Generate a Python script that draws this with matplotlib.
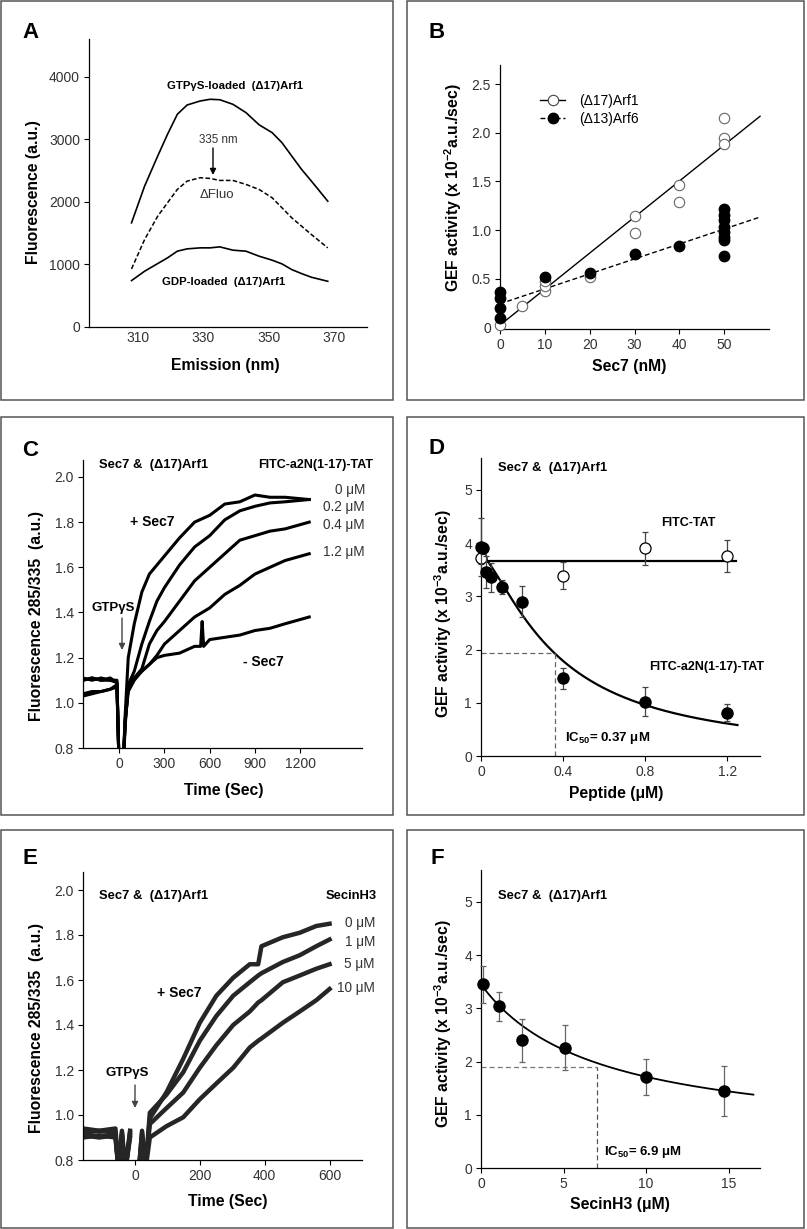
import numpy as np
import matplotlib
matplotlib.use("Agg")
import matplotlib.pyplot as plt
from matplotlib.patches import Rectangle
from matplotlib.ticker import FuncFormatter

plt.rcParams['font.family'] = ['Liberation Sans', 'DejaVu Sans']
plt.rcParams['mathtext.fontset'] = 'custom'
plt.rcParams['mathtext.rm'] = 'Liberation Sans'
plt.rcParams['mathtext.bf'] = 'Liberation Sans:bold'
plt.rcParams['mathtext.it'] = 'Liberation Sans:italic'

# ---------------- data ----------------
# A: emission spectra
a_nm = [308, 312, 316, 319, 322, 325, 329, 332, 335, 339, 343, 347, 351, 354, 357, 360, 363, 368]
a_gtp = [1664, 2250, 2730, 3077, 3397, 3546, 3610, 3637, 3630, 3557, 3424, 3230, 3104, 2944, 2730, 2517, 2330, 2010]
a_dfluo = [928, 1397, 1770, 1984, 2197, 2330, 2384, 2373, 2341, 2341, 2277, 2197, 2064, 1904, 1744, 1610, 1477, 1264]
a_gdp = [741, 891, 1013, 1104, 1211, 1248, 1264, 1264, 1280, 1227, 1211, 1131, 1067, 1008, 917, 853, 795, 730]

# B: GEF activity vs Sec7
b_arf1_x = [0, 5, 10, 10, 10, 20, 30, 30, 40, 40, 50, 50, 50]
b_arf1_y = [0.02, 0.22, 0.37, 0.42, 0.47, 0.52, 1.14, 0.97, 1.46, 1.29, 2.15, 1.95, 1.89]
b_arf6_x = [0, 0, 0, 0, 10, 20, 30, 40, 50, 50, 50, 50, 50, 50, 50, 50]
b_arf6_y = [0.36, 0.30, 0.20, 0.09, 0.52, 0.56, 0.75, 0.83, 1.22, 1.15, 1.10, 1.03, 0.98, 0.93, 0.90, 0.73]
b_fit_arf1 = (0.0371, 0.02)   # slope, intercept
b_fit_arf6 = (0.0154, 0.24)
b_fit_end = 58

# C: kinetics with FITC-a2N(1-17)-TAT
c_t = [-240, -180, -120, -60, -15, 0, 25, 40, 60, 100, 150, 200, 250, 300, 400, 500, 600, 700, 800, 900, 1000, 1100, 1260]
c_0 = [1.10, 1.11, 1.10, 1.11, 1.09, 0.70, 0.70, 0.95, 1.20, 1.35, 1.49, 1.57, 1.61, 1.65, 1.73, 1.80, 1.83, 1.88, 1.89, 1.92, 1.91, 1.91, 1.90]
c_02 = [1.11, 1.10, 1.11, 1.10, 1.10, 0.70, 0.70, 0.90, 1.08, 1.14, 1.26, 1.36, 1.45, 1.51, 1.61, 1.69, 1.74, 1.81, 1.85, 1.87, 1.885, 1.89, 1.90]
c_04 = [1.04, 1.05, 1.05, 1.06, 1.07, 0.70, 0.70, 0.92, 1.06, 1.11, 1.15, 1.26, 1.32, 1.36, 1.45, 1.54, 1.60, 1.66, 1.72, 1.74, 1.76, 1.77, 1.80]
c_12 = [1.10, 1.11, 1.10, 1.10, 1.09, 0.70, 0.70, 0.93, 1.07, 1.11, 1.14, 1.17, 1.21, 1.26, 1.32, 1.38, 1.42, 1.48, 1.52, 1.57, 1.60, 1.63, 1.66]
c_nosec_t = [-240, -180, -120, -60, -15, 0, 25, 40, 60, 100, 150, 200, 250, 300, 400, 500, 540, 550, 560, 600, 700, 800, 900, 1000, 1100, 1260]
c_nosec = [1.03, 1.04, 1.05, 1.06, 1.08, 0.70, 0.70, 0.92, 1.05, 1.10, 1.14, 1.17, 1.20, 1.21, 1.22, 1.25, 1.25, 1.36, 1.25, 1.28, 1.29, 1.30, 1.32, 1.33, 1.35, 1.38]
c_conc = ['0 μM', '0.2 μM', '0.4 μM', '1.2 μM']

# D: GEF activity vs peptide
d_a2n_x = [0, 0.01, 0.025, 0.05, 0.1, 0.2, 0.4, 0.8, 1.2]
d_a2n_y = [3.93, 3.90, 3.45, 3.36, 3.17, 2.90, 1.46, 1.02, 0.81]
d_a2n_e = [0.55, 0.10, 0.30, 0.27, 0.13, 0.29, 0.20, 0.27, 0.16]
d_tat_x = [0, 0.4, 0.8, 1.2]
d_tat_y = [3.72, 3.39, 3.90, 3.76]
d_tat_e = [0.12, 0.25, 0.31, 0.30]
d_tat_mean = 3.66
d_fit = dict(top=3.78, ic50=0.37, hill=1.4)
d_half = (0.36, 1.93)

# E: kinetics with SecinH3
nan = np.nan
e_t = [-160, -110, -60, -50, -40, -30, -15, 0, 12, 22, 32, 46, 97, 149, 200, 251, 303, 354, 380, 390, 456, 508, 559, 600]
e_0 = [0.94, 0.93, 0.94, 0.75, 0.93, 0.75, 0.93, nan, 0.75, 0.93, 0.75, 0.985, 1.10, 1.25, 1.41, 1.53, 1.61, 1.67, 1.67, 1.75, 1.79, 1.81, 1.84, 1.85]
e_1 = [0.92, 0.93, 0.92, 0.75, 0.92, 0.75, 0.92, nan, 0.75, 0.92, 0.75, 1.01, 1.09, 1.19, 1.33, 1.44, 1.53, 1.59, 1.62, 1.63, 1.68, 1.71, 1.75, 1.78]
e_5 = [0.91, 0.90, 0.91, 0.75, 0.90, 0.75, 0.91, nan, 0.75, 0.90, 0.75, 0.96, 1.03, 1.10, 1.21, 1.31, 1.40, 1.46, 1.50, 1.51, 1.59, 1.62, 1.65, 1.67]
e_10 = [0.90, 0.91, 0.90, 0.75, 0.91, 0.75, 0.90, nan, 0.75, 0.88, 0.75, 0.90, 0.95, 0.99, 1.07, 1.14, 1.21, 1.30, 1.33, 1.34, 1.41, 1.46, 1.51, 1.56]
e_conc = ['0 μM', '1 μM', '5 μM', '10 μM']

# F: GEF activity vs SecinH3
f_x = [0.1, 1.1, 2.5, 5.1, 10, 14.7]
f_y = [3.45, 3.04, 2.40, 2.26, 1.71, 1.44]
f_e = [0.34, 0.27, 0.40, 0.42, 0.34, 0.47]
f_fit = dict(top=3.45, bottom=0.5, c=7.0)
f_half = (7.05, 1.9)

# ---------------- layout ----------------
W, H = 807, 1229
fig = plt.figure(figsize=(W / 100, H / 100), dpi=100)


def px_axes(l, t, r, b):
    return fig.add_axes([l / W, 1 - b / H, (r - l) / W, (b - t) / H])


def ptext(x, y, s, **kw):
    kw.setdefault('va', 'center')
    fig.text(x / W, 1 - y / H, s, **kw)


def parrow(x, y0, y1, color='k'):
    fig.add_artist(matplotlib.patches.FancyArrowPatch(
        (x / W, 1 - y0 / H), (x / W, 1 - y1 / H), transform=fig.transFigure,
        arrowstyle='-|>', mutation_scale=9, color=color, lw=1.0, shrinkA=0, shrinkB=0))


def fmt(decimals):
    return FuncFormatter(lambda v, p: '0' if abs(v) < 1e-9 else f'{v:.{decimals}f}')


def style(ax, xlabel, ylabel, xl, yl):
    for s in ['top', 'right']:
        ax.spines[s].set_visible(False)
    for s in ['left', 'bottom']:
        ax.spines[s].set_linewidth(0.9)
    ax.tick_params(direction='out', length=3.5, width=0.8, labelsize=10,
                   labelcolor='#333333', pad=3)
    ax.set_xlabel(xlabel, fontsize=11.3, fontweight='bold', va='center')
    ax.xaxis.set_label_coords(*xl)
    ax.set_ylabel(ylabel, fontsize=11.3, fontweight='bold', va='center')
    ax.yaxis.set_label_coords(*yl)


# panel frames
for (l, t, r, b) in [(1, 1, 393, 400), (407, 1, 804, 400), (1, 417, 393, 815),
                     (407, 417, 804, 815), (1, 830, 393, 1228), (407, 830, 804, 1228)]:
    fig.add_artist(Rectangle((l / W, 1 - b / H), (r - l) / W, (b - t) / H,
                             transform=fig.transFigure, fill=False,
                             edgecolor='#555555', lw=1.1))

for letter, x, y in [('A', 22, 33), ('B', 428, 33), ('C', 22, 451),
                     ('D', 428, 449), ('E', 22, 858), ('F', 430, 858)]:
    ptext(x, y, letter, fontsize=16, fontweight='bold', ha='left')

# ---------------- A ----------------
ax = px_axes(89, 39, 367, 327)
ax.plot(a_nm, a_gtp, color='k', lw=1.2)
ax.plot(a_nm, a_dfluo, color='k', lw=1.1, ls=(0, (3, 1.5)))
ax.plot(a_nm, a_gdp, color='k', lw=1.2)
ax.set_xlim(295, 380)
ax.set_ylim(0, 4600)
ax.set_xticks([310, 330, 350, 370])
ax.set_yticks([0, 1000, 2000, 3000, 4000])
style(ax, 'Emission (nm)', 'Fluorescence (a.u.)', (0.49, -0.132), (-0.2, 0.47))
ax.tick_params(axis='x', length=0)
ptext(235, 86, 'GTPγS-loaded  (Δ17)Arf1', fontsize=8.2, fontweight='bold', ha='center')
ptext(218, 140, '335 nm', fontsize=8.4, ha='center', color='#333333')
parrow(213, 148, 175)
ptext(217, 195, 'ΔFluo', fontsize=9.5, ha='center', color='#333333')
ptext(224, 282, 'GDP-loaded  (Δ17)Arf1', fontsize=8.2, fontweight='bold', ha='center')

# ---------------- B ----------------
ax = px_axes(500, 65, 769, 329)
xf = np.array([0, b_fit_end])
ax.plot(xf, b_fit_arf1[0] * xf + b_fit_arf1[1], color='k', lw=1.0)
ax.plot(xf, b_fit_arf6[0] * xf + b_fit_arf6[1], color='k', lw=1.0, ls=(0, (3.5, 2)))
ax.plot(b_arf1_x, b_arf1_y, 'o', ms=7.5, mfc='white', mec='#666666', mew=0.8, clip_on=False, zorder=3)
ax.plot(b_arf6_x, b_arf6_y, 'o', ms=7.5, mfc='black', mec='black', clip_on=False, zorder=3)
h1, = ax.plot([], [], '-o', color='k', lw=1.0, ms=7.5, mfc='white', mec='#444444', mew=0.8)
h2, = ax.plot([], [], 'o', ls=(0, (3.5, 2)), color='k', lw=1.0, ms=7.5)
ax.legend([h1, h2], ['(Δ17)Arf1', '(Δ13)Arf6'], loc='upper left', bbox_to_anchor=(0.15, 0.89),
          frameon=False, fontsize=10, handlelength=1.8, handletextpad=1.0, labelspacing=0.25,
          borderpad=0, borderaxespad=0, numpoints=1)
ax.set_xlim(0, 60)
ax.set_ylim(-0.02, 2.7)
ax.set_xticks([0, 10, 20, 30, 40, 50])
ax.set_yticks([0, 0.5, 1.0, 1.5, 2.0, 2.5])
ax.yaxis.set_major_formatter(fmt(1))
style(ax, 'Sec7 (nM)', r'GEF activity (x 10$^{\mathbf{-2}}$a.u./sec)', (0.482, -0.143), (-0.175, 0.536))

# ---------------- C ----------------
ax = px_axes(83, 460, 362, 748)
for ys in [c_0, c_02, c_04, c_12]:
    ax.plot(c_t, ys, color='k', lw=2.2)
ax.plot(c_nosec_t, c_nosec, color='k', lw=2.2)
ax.set_xlim(-240, 1610)
ax.set_ylim(0.8, 2.075)
ax.set_xticks([0, 300, 600, 900, 1200])
ax.set_yticks([0.8, 1.0, 1.2, 1.4, 1.6, 1.8, 2.0])
ax.yaxis.set_major_formatter(fmt(1))
style(ax, 'Time (Sec)', 'Fluorescence 285/335  (a.u.)', (0.505, -0.146), (-0.166, 0.458))
ptext(99, 465, 'Sec7 &  (Δ17)Arf1', fontsize=9.4, fontweight='bold', ha='left')
ptext(258, 465, 'FITC-a2N(1-17)-TAT', fontsize=9, fontweight='bold', ha='left')
for lab, y in zip(c_conc, [490, 507, 525, 552]):
    ptext(365, y, lab, fontsize=9.8, ha='right', color='#333333')
ptext(130, 522, '+ Sec7', fontsize=10, fontweight='bold', ha='left')
ptext(92, 608, 'GTPγS', fontsize=9.5, fontweight='bold', ha='left')
parrow(122, 618, 650, color='#444444')
ptext(243, 662, '- Sec7', fontsize=10, fontweight='bold', ha='left')

# ---------------- D ----------------
ax = px_axes(481, 458, 760, 756)
xd = np.linspace(0, 1.25, 200)
ax.plot(xd, d_fit['top'] / (1 + (xd / d_fit['ic50']) ** d_fit['hill']), color='k', lw=1.6)
ax.plot([0, 1.245], [d_tat_mean, d_tat_mean], color='k', lw=1.6)
ax.plot([0, d_half[0]], [d_half[1], d_half[1]], color='#666666', lw=0.9, ls=(0, (4, 2.5)))
ax.plot([d_half[0], d_half[0]], [0, d_half[1]], color='#666666', lw=0.9, ls=(0, (4, 2.5)))
ax.errorbar(d_tat_x, d_tat_y, yerr=d_tat_e, fmt='o', ms=8, mfc='white', mec='k', mew=0.9,
            ecolor='#444444', elinewidth=0.9, capsize=2.5, capthick=0.9, clip_on=False, zorder=3)
ax.errorbar(d_a2n_x, d_a2n_y, yerr=d_a2n_e, fmt='o', ms=8, mfc='k', mec='k',
            ecolor='#444444', elinewidth=0.9, capsize=2.5, capthick=0.9, clip_on=False, zorder=4)
ax.set_xlim(0, 1.36)
ax.set_ylim(0, 5.6)
ax.set_xticks([0, 0.4, 0.8, 1.2])
ax.set_yticks([0, 1, 2, 3, 4, 5])
ax.xaxis.set_major_formatter(fmt(1))
style(ax, 'Peptide (μM)', r'GEF activity (x 10$^{\mathbf{-3}}$a.u./sec)', (0.485, -0.125), (-0.136, 0.478))
ptext(498, 468, 'Sec7 &  (Δ17)Arf1', fontsize=9.4, fontweight='bold', ha='left')
ptext(661, 523, 'FITC-TAT', fontsize=9, fontweight='bold', ha='left')
ptext(649, 667, 'FITC-a2N(1-17)-TAT', fontsize=9, fontweight='bold', ha='left')
ptext(565, 738, r'IC$_{\mathbf{50}}$= 0.37 μM', fontsize=9.5, fontweight='bold', ha='left')

# ---------------- E ----------------
ax = px_axes(83, 872, 362, 1160)
for ys in [e_0, e_1, e_5, e_10]:
    ax.plot(e_t, ys, color='#262626', lw=3.2)
ax.set_xlim(-160, 700)
ax.set_ylim(0.8, 2.08)
ax.set_xticks([0, 200, 400, 600])
ax.set_yticks([0.8, 1.0, 1.2, 1.4, 1.6, 1.8, 2.0])
ax.yaxis.set_major_formatter(fmt(1))
style(ax, 'Time (Sec)', 'Fluorescence 285/335  (a.u.)', (0.52, -0.145), (-0.166, 0.458))
ptext(99, 896, 'Sec7 &  (Δ17)Arf1', fontsize=9.4, fontweight='bold', ha='left')
ptext(377, 896, 'SecinH3', fontsize=9.4, fontweight='bold', ha='right')
for lab, y in zip(e_conc, [923, 942, 964, 988]):
    ptext(375, y, lab, fontsize=9.8, ha='right', color='#333333')
ptext(157, 993, '+ Sec7', fontsize=10, fontweight='bold', ha='left')
ptext(105, 1073, 'GTPγS', fontsize=9.5, fontweight='bold', ha='left')
parrow(135, 1085, 1108, color='#444444')

# ---------------- F ----------------
ax = px_axes(481, 870, 760, 1168)
xg = np.linspace(0, 16.5, 200)
ax.plot(xg, f_fit['bottom'] + (f_fit['top'] - f_fit['bottom']) / (1 + xg / f_fit['c']), color='k', lw=1.3)
ax.plot([0, f_half[0]], [f_half[1], f_half[1]], color='#777777', lw=0.9, ls=(0, (4, 2.5)))
ax.plot([f_half[0], f_half[0]], [0, f_half[1]], color='#555555', lw=0.9, ls=(0, (4, 2.5)))
ax.errorbar(f_x, f_y, yerr=f_e, fmt='o', ms=8, mfc='k', mec='k',
            ecolor='#666666', elinewidth=0.9, capsize=2.5, capthick=0.9, clip_on=False, zorder=3)
ax.set_xlim(0, 16.9)
ax.set_ylim(0, 5.6)
ax.set_xticks([0, 5, 10, 15])
ax.set_yticks([0, 1, 2, 3, 4, 5])
style(ax, 'SecinH3 (μM)', r'GEF activity (x 10$^{\mathbf{-3}}$a.u./sec)', (0.497, -0.124), (-0.136, 0.483))
ptext(498, 896, 'Sec7 &  (Δ17)Arf1', fontsize=9.4, fontweight='bold', ha='left')
ptext(604, 1152, r'IC$_{\mathbf{50}}$= 6.9 μM', fontsize=9.5, fontweight='bold', ha='left')

fig.savefig('out.png', dpi=100, facecolor='white')
